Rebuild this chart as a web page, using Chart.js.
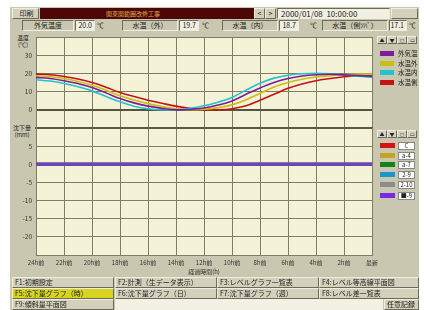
<!doctype html>
<html lang="ja">
<head>
<meta charset="utf-8">
<title>沈下量グラフ</title>
<script src="https://cdn.jsdelivr.net/npm/chart.js"></script>
<style>
  * { margin: 0; padding: 0; box-sizing: border-box; }
  body { width: 424px; height: 310px; background: #fff; position: relative; overflow: hidden;
         font-family: "Noto Sans CJK JP", "Noto Sans", sans-serif; color: #222; }
  .win { position: absolute; left: 10px; top: 7px; width: 409px; height: 303px; background: #c9c7af; }
  .abs { position: absolute; white-space: nowrap; font-size: 7px; line-height: 1; }
  .btn { position: absolute; background: #d3d1bb; border: 1px solid #6d6b58; border-top-color: #eeeddf;
         border-left-color: #eeeddf; font-size: 7px; line-height: 9px; padding-left: 2px; white-space: nowrap; overflow: hidden; }
  .sunk { position: absolute; border: 1px solid #eeeddf; border-top-color: #6d6b58; border-left-color: #6d6b58;
          font-size: 7px; line-height: 9px; white-space: nowrap; }
  canvas { position: absolute; }
  .sw { position: absolute; width: 14px; height: 5px; }
  .lbox { position: absolute; width: 17px; height: 8px; background: #fff; border: 1px solid #888;
          font-size: 6px; line-height: 6px; text-align: center; }
</style>
</head>
<body>
<div class="win"></div>

<!-- title row -->
<div class="btn" style="left:12px;top:8px;width:27px;height:11px;text-align:center;">印刷</div>
<div class="abs" style="left:40px;top:8px;width:214px;height:11px;background:#4e0707;color:#e2a84a;padding-left:66px;line-height:11px;font-size:6px;">関東関範囲改修工事</div>
<div class="btn" style="left:254px;top:8px;width:11px;height:11px;text-align:center;padding:0;">&lt;</div>
<div class="btn" style="left:265px;top:8px;width:11px;height:11px;text-align:center;padding:0;">&gt;</div>
<div class="sunk" style="left:277px;top:8px;width:113px;height:11px;background:#f1efe2;font-size:8px;padding-left:3px;">2000/01/08&nbsp;&nbsp;10:00:00</div>
<div class="btn" style="left:391px;top:8px;width:27px;height:11px;"></div>

<!-- info row -->
<div class="sunk" style="left:22px;top:20px;width:52px;height:11px;text-align:center;">外気温度</div>
<div class="sunk" style="left:75px;top:20px;width:20px;height:11px;background:#f1efe2;text-align:right;padding-right:2px;">20.0</div>
<div class="abs" style="left:97px;top:22px;">℃</div>
<div class="sunk" style="left:122px;top:20px;width:56px;height:11px;text-align:center;">水温（外）</div>
<div class="sunk" style="left:179px;top:20px;width:20px;height:11px;background:#f1efe2;text-align:right;padding-right:2px;">19.7</div>
<div class="abs" style="left:202px;top:22px;">℃</div>
<div class="sunk" style="left:222px;top:20px;width:56px;height:11px;text-align:center;">水温（内）</div>
<div class="sunk" style="left:279px;top:20px;width:20px;height:11px;background:#f1efe2;text-align:right;padding-right:2px;">18.7</div>
<div class="abs" style="left:310px;top:22px;">℃</div>
<div class="sunk" style="left:322px;top:20px;width:66px;height:11px;text-align:center;">水温（側ｿﾊﾞ）</div>
<div class="sunk" style="left:389px;top:20px;width:18px;height:11px;background:#f1efe2;text-align:right;padding-right:2px;">17.1</div>
<div class="abs" style="left:409px;top:22px;">℃</div>

<!-- axis titles -->
<div class="abs" style="left:17px;top:34px;font-size:6px;line-height:7px;text-align:center;">温度<br>(℃)</div>
<div class="abs" style="left:13px;top:124px;font-size:6px;line-height:7px;text-align:center;">沈下量<br>(mm)</div>

<canvas id="tempChart" width="372" height="94" style="left:10px;top:35px;"></canvas>
<canvas id="settleChart" width="392" height="149" style="left:10px;top:126px;"></canvas>

<div id="tempLegend"></div>
<div id="settleLegend"></div>

<!-- function keys -->
<div class="btn" style="left:12px;top:277px;width:102px;height:11px;">F1:初期設定</div>
<div class="btn" style="left:115px;top:277px;width:102px;height:11px;">F2:計測（生データ表示）</div>
<div class="btn" style="left:217px;top:277px;width:102px;height:11px;">F3:レベルグラフ一覧表</div>
<div class="btn" style="left:319px;top:277px;width:100px;height:11px;">F4:レベル等高線平面図</div>
<div class="btn" style="left:12px;top:288px;width:102px;height:11px;background:#d6d41c;">F5:沈下量グラフ（時）</div>
<div class="btn" style="left:115px;top:288px;width:102px;height:11px;">F6:沈下量グラフ（日）</div>
<div class="btn" style="left:217px;top:288px;width:102px;height:11px;">F7:沈下量グラフ（週）</div>
<div class="btn" style="left:319px;top:288px;width:100px;height:11px;">F8:レベル差一覧表</div>
<div class="btn" style="left:12px;top:299px;width:102px;height:11px;">F9:傾斜量平面図</div>
<div class="abs" style="left:115px;top:299px;width:268px;height:11px;background:#f3f1e4;"></div>
<div class="btn" style="left:384px;top:299px;width:35px;height:11px;">任意記録</div>

<script>
// hours since 24h ago
const hours = [0,1,2,3,4,5,6,7,8,9,10,11,12,13,14,15,16,17,18,19,20,21,22,23,24];
const xLabels = ['24h前','22h前','20h前','18h前','16h前','14h前','12h前','10h前','8h前','6h前','4h前','2h前','最新'];

// temperature (℃)
const tempNames = ['外気温', '水温外', '水温内', '水温側'];
const airTemp   = [17.8,17.2,16.0,14.4,12.3,9.3,6.2,3.8,2.0,0.8,0.0,0.2,1.0,2.6,4.9,8.5,12.0,15.0,17.2,18.6,19.3,19.5,19.2,18.8,18.5];
const waterOut  = [18.7,18.2,17.2,15.6,13.5,10.8,7.7,5.4,3.4,1.8,0.5,0.0,0.3,1.2,2.7,5.5,9.0,12.5,15.0,16.8,18.0,18.8,19.3,19.6,19.7];
const waterIn   = [16.5,15.8,14.5,12.7,10.4,7.3,4.4,2.0,0.6,0.0,0.1,0.8,2.2,4.2,6.8,10.8,14.6,17.4,19.0,19.8,20.0,19.8,19.2,18.4,17.8];
const waterSide = [19.6,19.3,18.3,16.9,15.0,12.4,9.5,7.3,5.3,3.6,2.0,0.8,0.0,0.0,0.6,2.2,5.3,8.5,11.8,14.2,16.0,17.2,18.2,18.8,18.8];

// settlement (mm)
const pointNames = ['C', 'a-4', 'a-7', '2-9', '2-10', '■-9'];
const setC   = [0,0,0,0,0,0,0,0,0,0,0,0,0,0,0,0,0,0,0,0,0,0,0,0,0];
const setA4  = [0,0,0,0,0,0,0,0,0,0,0,0,0,0,0,0,0,0,0,0,0,0,0,0,0];
const setA7  = [0,0,0,0,0,0,0,0,0,0,0,0,0,0,0,0,0,0,0,0,0,0,0,0,0];
const set29  = [0,0,0,0,0,0,0,0,0,0,0,0,0,0,0,0,0,0,0,0,0,0,0,0,0];
const set210 = [0,0,0,0,0,0,0,0,0,0,0,0,0,0,0,0,0,0,0,0,0,0,0,0,0];
const set9   = [0,0,0,0,0,0,0,0,0,0,0,0,0,0,0,0,0,0,0,0,0,0,0,0,0];

const tempColors = ['#7c1c9c', '#c9be12', '#22c4cc', '#c41212'];
const pointColors = ['#d41414', '#c4a424', '#12841a', '#1e94cc', '#8c8c88', '#7a2ae4'];

const gridCol = '#7f7d65';
const pts = arr => arr.map((v, i) => ({ x: hours[i], y: v }));

const plotBg = {
  id: 'plotBg',
  beforeDraw(chart) {
    const a = chart.chartArea, c = chart.ctx;
    c.save();
    c.fillStyle = '#f4f2d7';
    c.fillRect(a.left, a.top, a.right - a.left, a.bottom - a.top);
    c.restore();
  }
};

Chart.defaults.font.family = '"Noto Sans CJK JP", "Noto Sans", sans-serif';

new Chart(document.getElementById('tempChart'), {
  type: 'line',
  data: {
    datasets: [airTemp, waterOut, waterIn, waterSide].map((d, i) => ({
      label: tempNames[i], data: pts(d), borderColor: tempColors[i],
      borderWidth: 1.6, pointRadius: 0, tension: 0.4, fill: false
    }))
  },
  options: {
    responsive: false, animation: false,
    layout: { padding: { top: 2, bottom: 1, left: 0, right: 10 } },
    plugins: { legend: { display: false }, tooltip: { enabled: false } },
    scales: {
      x: {
        type: 'linear', min: 0, max: 24,
        ticks: { display: false, stepSize: 2 },
        grid: { color: gridCol, drawTicks: false },
        border: { color: '#5d5b48', width: 2 },
        afterFit(s) { s.height = 0; s.paddingLeft = 0; s.paddingRight = 0; }
      },
      y: {
        min: -10, max: 40,
        ticks: { stepSize: 10, font: { size: 6.5 }, color: '#333', padding: 4,
                 callback: v => (v === 40 || v === -10) ? '' : v },
        grid: { drawTicks: false,
                color: c => c.tick && c.tick.value === 0 ? '#55533f' : gridCol,
                lineWidth: c => c.tick && c.tick.value === 0 ? 2 : 1 },
        border: { color: gridCol },
        afterFit(s) { s.width = 26; s.paddingTop = 0; s.paddingBottom = 0; }
      }
    }
  },
  plugins: [plotBg]
});

new Chart(document.getElementById('settleChart'), {
  type: 'line',
  data: {
    datasets: [setC, setA4, setA7, set29, set210, set9].map((d, i) => ({
      label: pointNames[i], data: pts(d), borderColor: i === 5 ? '#5f46d6' : pointColors[i],
      borderWidth: 3, pointRadius: 0, fill: false, order: i === 5 ? -1 : i
    }))
  },
  options: {
    responsive: false, animation: false,
    layout: { padding: { top: 2, bottom: 0, left: 0, right: 30 } },
    plugins: { legend: { display: false }, tooltip: { enabled: false } },
    scales: {
      x: {
        type: 'linear', min: 0, max: 24,
        ticks: { stepSize: 2, font: { size: 6 }, color: '#333', padding: 4, maxRotation: 0,
                 autoSkip: false, callback: v => xLabels[v / 2] },
        title: { display: true, text: '経過時間(h)', font: { size: 6 }, color: '#333', padding: 0 },
        grid: { color: gridCol, drawTicks: false },
        border: { color: gridCol },
        afterFit(s) { s.height = 20; s.paddingLeft = 0; s.paddingRight = 0; }
      },
      y: {
        min: -25, max: 10,
        ticks: { stepSize: 5, font: { size: 6.5 }, color: '#333', padding: 4,
                 callback: v => (v === 10 || v === -25) ? '' : v },
        grid: { drawTicks: false, color: c => c.tick && c.tick.value === 10 ? '#5d5b48' : gridCol,
                lineWidth: c => c.tick && c.tick.value === 10 ? 2 : 1 },
        border: { color: gridCol },
        afterFit(s) { s.width = 26; s.paddingTop = 0; s.paddingBottom = 0; }
      }
    }
  },
  plugins: [plotBg]
});

// side legends
function header(top) {
  let h = '';
  ['▲', '▼', '◻', '▭'].forEach((s, i) => {
    h += `<div class="btn" style="left:${377 + i * 10}px;top:${top}px;width:10px;height:8px;font-size:5px;line-height:6px;padding:0;text-align:center;">${s}</div>`;
  });
  return h;
}
let tl = header(36);
const tempY = [51, 61, 70, 80];
tempNames.forEach((n, i) => {
  tl += `<div class="sw" style="left:380px;top:${tempY[i]}px;background:${tempColors[i]};"></div>`;
  tl += `<div class="abs" style="left:398px;top:${tempY[i] - 1}px;font-size:6.5px;">${n}</div>`;
});
document.getElementById('tempLegend').innerHTML = tl;

let sl = header(130);
const ptY = [143, 153, 162, 172, 182, 193];
pointNames.forEach((n, i) => {
  sl += `<div class="sw" style="left:380px;top:${ptY[i]}px;width:15px;background:${pointColors[i]};"></div>`;
  sl += `<div class="lbox" style="left:398px;top:${ptY[i] - 1}px;">${n}</div>`;
});
document.getElementById('settleLegend').innerHTML = sl;
</script>
</body>
</html>
